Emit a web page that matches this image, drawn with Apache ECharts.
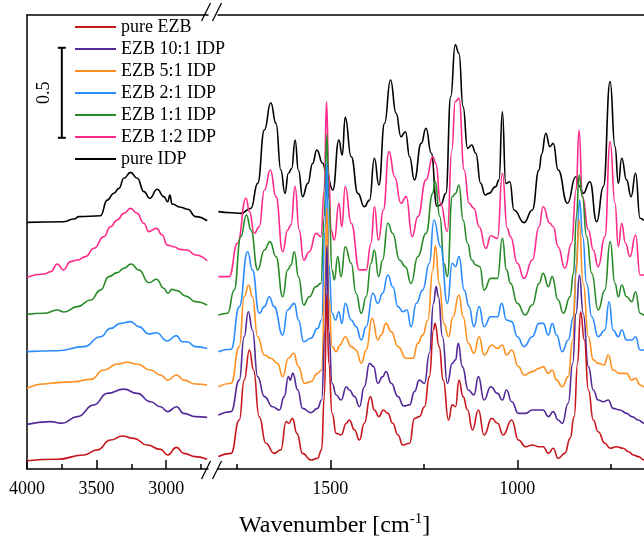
<!DOCTYPE html>
<html><head><meta charset="utf-8">
<script src="https://cdn.jsdelivr.net/npm/echarts@6/dist/echarts.min.js"></script>
<style>html,body{margin:0;padding:0;background:#fff}#c{width:644px;height:541px}</style>
</head><body><div id="c"></div>
<script>
// ---------- data (wavenumber [cm-1], offset-stacked absorbance) ----------
const seriesNames = ['pure EZB','EZB 10:1 IDP','EZB 5:1 IDP','EZB 2:1 IDP','EZB 1:1 IDP','EZB 1:2 IDP','pure IDP'];
const seriesColors = ['#C8161D','#532A97','#FF8F1F','#2B8CFF','#288B28','#FF2A8A','#000000'];

const leftMajorTicks = [4000, 3500, 3000];
const leftMinorTicks = [3750, 3250, 2750];
const rightMajorTicks = [1500, 1000];
const rightMinorTicks = [1750, 1250, 750];

const scaleBarWn = 3750, scaleBarBase = 1.84, scaleBarLength = 0.5, scaleBarLabel = '0.5';

const redLeft = [[4000,0.046],[3782,0.054],[3591,0.078],[3496,0.106],[3400,0.161],[3316,0.183],[3232,0.170],[3137,0.133],[3041,0.109],[2989,0.078],[2926,0.120],[2874,0.087],[2790,0.069],[2706,0.054]];
const purpleLeft = [[4000,0.248],[3830,0.263],[3747,0.254],[3639,0.291],[3519,0.356],[3424,0.420],[3304,0.444],[3209,0.420],[3113,0.374],[3041,0.346],[2989,0.319],[2926,0.346],[2874,0.309],[2790,0.291],[2706,0.287]];
const orangeLeft = [[4000,0.448],[3878,0.472],[3782,0.480],[3663,0.485],[3543,0.498],[3448,0.550],[3352,0.583],[3280,0.593],[3209,0.583],[3113,0.550],[3041,0.522],[2989,0.494],[2926,0.522],[2874,0.494],[2790,0.472],[2706,0.467]];
const blueLeft = [[4000,0.652],[3782,0.657],[3591,0.680],[3472,0.735],[3400,0.781],[3328,0.809],[3256,0.819],[3197,0.791],[3125,0.750],[3070,0.757],[2993,0.711],[2926,0.741],[2886,0.707],[2850,0.707],[2790,0.680],[2706,0.670]];
const greenLeft = [[4000,0.859],[3878,0.865],[3782,0.883],[3735,0.872],[3639,0.902],[3543,0.939],[3472,0.994],[3412,1.069],[3352,1.091],[3304,1.115],[3252,1.139],[3197,1.106],[3125,1.035],[3070,1.054],[3017,1.004],[2989,0.976],[2958,0.998],[2922,0.991],[2862,0.961],[2790,0.930],[2706,0.911]];
const pinkLeft = [[4000,1.065],[3878,1.083],[3830,1.096],[3782,1.139],[3739,1.106],[3687,1.152],[3639,1.161],[3579,1.180],[3519,1.226],[3448,1.291],[3400,1.346],[3352,1.383],[3304,1.420],[3256,1.448],[3209,1.420],[3161,1.365],[3125,1.319],[3070,1.337],[3029,1.300],[2993,1.244],[2946,1.235],[2898,1.220],[2850,1.217],[2790,1.189],[2706,1.157]];
const blackLeft = [[4000,1.370],[3735,1.374],[3663,1.389],[3627,1.402],[3472,1.407],[3424,1.494],[3376,1.532],[3340,1.559],[3304,1.615],[3256,1.648],[3208,1.615],[3160,1.541],[3118,1.504],[3065,1.554],[3017,1.513],[2989,1.485],[2974,1.522],[2958,1.472],[2898,1.454],[2845,1.443],[2790,1.402],[2706,1.379]];

const redRight = [[1799,0.069],[1765,0.087],[1743,0.272],[1730,0.494],[1716,0.661],[1705,0.550],[1690,0.291],[1672,0.143],[1650,0.087],[1632,0.106],[1618,0.263],[1610,0.254],[1601,0.281],[1589,0.198],[1574,0.087],[1552,0.050],[1534,0.059],[1523,0.106],[1516,0.402],[1509,0.97],[1504,0.587],[1495,0.309],[1484,0.198],[1471,0.189],[1457,0.254],[1449,0.272],[1435,0.217],[1422,0.161],[1409,0.254],[1393,0.402],[1382,0.328],[1370,0.291],[1358,0.328],[1346,0.309],[1333,0.254],[1319,0.189],[1306,0.133],[1288,0.143],[1275,0.281],[1262,0.291],[1248,0.346],[1235,0.513],[1224,0.772],[1220,0.809],[1209,0.680],[1198,0.494],[1184,0.272],[1174,0.356],[1165,0.346],[1156,0.494],[1145,0.402],[1133,0.328],[1120,0.217],[1104,0.328],[1089,0.189],[1068,0.281],[1053,0.254],[1038,0.189],[1015,0.272],[997,0.161],[978,0.124],[960,0.133],[942,0.124],[931,0.124],[917,0.087],[904,0.115],[891,0.059],[873,0.087],[859,0.170],[848,0.291],[839,0.587],[831,0.874],[821,0.717],[810,0.439],[797,0.272],[784,0.207],[766,0.143],[752,0.115],[735,0.124],[717,0.115],[703,0.096],[690,0.078],[677,0.069],[661,0.050],[650,0.05]];
const purpleRight = [[1799,0.300],[1765,0.319],[1743,0.494],[1730,0.735],[1719,0.874],[1708,0.772],[1694,0.513],[1676,0.402],[1654,0.346],[1636,0.328],[1623,0.402],[1612,0.513],[1607,0.494],[1600,0.531],[1587,0.439],[1574,0.337],[1552,0.313],[1534,0.337],[1523,0.383],[1514,0.772],[1509,1.24],[1504,0.772],[1495,0.476],[1484,0.411],[1471,0.383],[1457,0.457],[1449,0.439],[1435,0.402],[1422,0.346],[1409,0.457],[1395,0.587],[1384,0.569],[1373,0.476],[1360,0.513],[1351,0.541],[1337,0.476],[1319,0.402],[1304,0.350],[1288,0.356],[1275,0.430],[1262,0.494],[1248,0.476],[1235,0.643],[1224,0.920],[1217,1.013],[1211,0.957],[1200,0.735],[1187,0.476],[1174,0.587],[1165,0.606],[1158,0.698],[1147,0.569],[1131,0.439],[1116,0.411],[1104,0.513],[1089,0.383],[1071,0.457],[1053,0.420],[1040,0.383],[1029,0.439],[1015,0.374],[997,0.309],[978,0.309],[960,0.328],[942,0.328],[931,0.328],[917,0.291],[904,0.319],[891,0.272],[880,0.254],[864,0.365],[852,0.587],[843,0.865],[834,1.078],[824,0.865],[810,0.569],[797,0.439],[784,0.383],[770,0.374],[757,0.383],[744,0.337],[726,0.328],[708,0.309],[694,0.291],[677,0.272],[661,0.254],[650,0.25]];
const orangeRight = [[1799,0.457],[1765,0.476],[1743,0.680],[1730,0.957],[1718,1.022],[1708,0.957],[1694,0.735],[1676,0.633],[1659,0.615],[1641,0.587],[1627,0.513],[1612,0.615],[1598,0.643],[1585,0.569],[1569,0.476],[1552,0.485],[1534,0.531],[1523,0.550],[1514,1.050],[1509,1.45],[1504,0.957],[1495,0.680],[1484,0.652],[1474,0.689],[1460,0.735],[1444,0.680],[1431,0.661],[1417,0.587],[1404,0.661],[1388,0.837],[1373,0.717],[1364,0.744],[1351,0.809],[1337,0.763],[1319,0.680],[1297,0.615],[1279,0.615],[1266,0.698],[1253,0.744],[1239,0.828],[1226,1.106],[1219,1.24],[1209,1.031],[1196,0.809],[1184,0.735],[1172,0.846],[1156,0.967],[1145,0.846],[1131,0.698],[1116,0.643],[1102,0.735],[1089,0.633],[1068,0.689],[1053,0.670],[1040,0.689],[1029,0.633],[1015,0.661],[997,0.569],[982,0.522],[960,0.541],[942,0.559],[931,0.569],[917,0.531],[907,0.550],[895,0.494],[880,0.457],[864,0.513],[852,0.717],[843,1.087],[835,1.383],[824,1.031],[810,0.735],[797,0.606],[784,0.587],[768,0.578],[757,0.633],[744,0.550],[726,0.531],[708,0.531],[694,0.494],[684,0.504],[672,0.467],[661,0.457],[650,0.455]];
const blueRight = [[1799,0.652],[1765,0.665],[1743,0.902],[1721,1.207],[1708,1.106],[1690,0.865],[1676,0.902],[1663,0.957],[1650,0.902],[1627,0.744],[1614,0.883],[1596,0.920],[1585,0.828],[1571,0.707],[1552,0.726],[1534,0.781],[1523,0.828],[1514,1.328],[1509,1.70],[1504,1.143],[1495,0.865],[1486,0.828],[1477,0.874],[1469,0.809],[1460,0.920],[1444,0.828],[1431,0.791],[1417,0.717],[1404,0.791],[1386,0.976],[1373,0.920],[1360,0.976],[1346,1.078],[1333,1.013],[1319,0.902],[1306,0.874],[1295,0.883],[1284,0.791],[1270,0.920],[1253,0.994],[1235,1.143],[1223,1.383],[1205,1.235],[1187,0.920],[1174,1.143],[1165,1.124],[1156,1.180],[1142,0.994],[1129,0.902],[1116,0.791],[1102,0.902],[1089,0.791],[1071,0.846],[1053,0.846],[1042,0.920],[1029,0.828],[1015,0.819],[1000,0.735],[982,0.680],[960,0.735],[942,0.809],[931,0.809],[917,0.744],[907,0.809],[895,0.744],[880,0.652],[864,0.717],[850,0.846],[842,1.143],[834,1.494],[825,1.291],[815,1.031],[801,0.846],[784,0.735],[766,0.772],[755,0.930],[744,0.772],[730,0.735],[721,0.772],[708,0.717],[694,0.717],[684,0.735],[672,0.661],[661,0.661],[650,0.66]];
const greenRight = [[1799,0.856],[1774,0.865],[1757,0.994],[1739,1.291],[1724,1.411],[1712,1.328],[1694,1.106],[1676,1.217],[1661,1.263],[1645,1.180],[1627,0.957],[1614,1.106],[1605,1.133],[1596,1.207],[1585,1.069],[1571,0.911],[1556,0.957],[1538,1.013],[1525,1.031],[1516,1.40],[1509,1.86],[1504,1.50],[1495,1.106],[1489,1.050],[1480,1.180],[1471,1.069],[1460,1.235],[1444,1.143],[1431,0.976],[1417,0.865],[1404,0.957],[1391,1.143],[1382,1.217],[1371,1.069],[1360,1.161],[1346,1.365],[1333,1.309],[1315,1.161],[1299,1.124],[1284,1.031],[1266,1.180],[1244,1.309],[1226,1.531],[1220,1.60],[1207,1.402],[1196,1.143],[1187,1.069],[1174,1.513],[1165,1.531],[1156,1.578],[1145,1.383],[1133,1.254],[1122,1.161],[1111,1.133],[1100,1.124],[1089,0.994],[1071,1.059],[1053,1.059],[1040,1.281],[1029,1.106],[1018,1.031],[1000,0.920],[979,0.856],[960,0.911],[942,1.031],[931,1.087],[917,1.013],[907,1.069],[891,0.939],[877,0.865],[859,0.957],[850,1.087],[842,1.402],[835,1.633],[826,1.513],[815,1.291],[801,1.087],[784,0.883],[766,0.994],[752,1.263],[739,1.031],[730,0.957],[721,1.022],[708,0.957],[694,0.930],[684,0.985],[672,0.865],[661,0.856],[650,0.85]];
const pinkRight = [[1799,1.069],[1770,1.069],[1748,1.254],[1725,1.504],[1716,1.430],[1703,1.309],[1690,1.346],[1676,1.550],[1660,1.661],[1645,1.513],[1627,1.207],[1614,1.328],[1605,1.356],[1594,1.569],[1583,1.328],[1571,1.161],[1556,1.207],[1538,1.309],[1525,1.291],[1516,1.55],[1510,2.04],[1504,1.65],[1498,1.328],[1489,1.272],[1477,1.476],[1469,1.346],[1460,1.569],[1444,1.365],[1422,1.106],[1404,1.106],[1391,1.254],[1382,1.457],[1371,1.272],[1358,1.439],[1343,1.763],[1328,1.624],[1311,1.476],[1297,1.513],[1281,1.291],[1266,1.402],[1244,1.606],[1226,1.735],[1218,1.698],[1205,1.476],[1187,1.319],[1175,1.772],[1166,2.041],[1156,2.059],[1142,1.661],[1129,1.476],[1116,1.448],[1102,1.346],[1084,1.226],[1071,1.296],[1053,1.281],[1040,1.643],[1027,1.337],[1018,1.291],[1000,1.143],[982,1.059],[960,1.161],[942,1.346],[931,1.457],[913,1.365],[904,1.346],[891,1.235],[873,1.115],[855,1.254],[843,1.550],[835,1.883],[826,1.513],[810,1.328],[797,1.217],[784,1.124],[766,1.291],[752,1.819],[739,1.476],[730,1.235],[721,1.365],[711,1.254],[699,1.180],[684,1.300],[672,1.078],[661,1.078],[650,1.07]];
const blackRight = [[1799,1.430],[1765,1.424],[1739,1.420],[1712,1.448],[1694,1.587],[1676,1.883],[1659,2.035],[1645,1.920],[1632,1.661],[1621,1.531],[1612,1.643],[1603,1.669],[1594,1.828],[1585,1.661],[1574,1.513],[1560,1.587],[1547,1.698],[1536,1.772],[1520,1.698],[1511,1.650],[1493,1.550],[1477,1.828],[1468,1.744],[1460,1.954],[1444,1.735],[1426,1.531],[1409,1.457],[1395,1.494],[1382,1.726],[1370,1.578],[1355,1.920],[1339,2.161],[1324,1.976],[1311,1.846],[1299,1.874],[1288,1.735],[1275,1.606],[1257,1.809],[1244,1.893],[1230,1.754],[1215,1.46],[1205,1.467],[1191,1.531],[1178,2.069],[1166,2.356],[1156,2.309],[1145,2.013],[1133,1.781],[1122,1.800],[1111,1.754],[1098,1.587],[1086,1.522],[1076,1.531],[1058,1.569],[1049,1.606],[1040,1.985],[1031,1.587],[1020,1.596],[1009,1.439],[982,1.369],[960,1.439],[942,1.661],[935,1.75],[924,1.865],[913,1.791],[904,1.809],[891,1.661],[866,1.476],[844,1.624],[833,1.569],[824,1.531],[806,1.596],[788,1.374],[770,1.569],[752,2.152],[739,1.791],[730,1.587],[721,1.726],[708,1.606],[696,1.513],[684,1.643],[672,1.393],[661,1.383],[650,1.38]];

const leftData = [redLeft, purpleLeft, orangeLeft, blueLeft, greenLeft, pinkLeft, blackLeft];
const rightData = [redRight, purpleRight, orangeRight, blueRight, greenRight, pinkRight, blackRight];

// ---------- chart ----------
const FONT = '"Liberation Serif", "Times New Roman", serif';
const Y_MAX = 2.5222;
const chart = echarts.init(document.getElementById('c'), null, {renderer: 'canvas'});

function xAxisMajor(grid, min, max, ticks) {
  return {type: 'value', gridIndex: grid, position: 'bottom', inverse: true, min: min, max: max,
    axisLine: {show: true, onZero: false, lineStyle: {color: '#000', width: 1.5}},
    axisTick: {show: true, inside: true, length: 9, customValues: ticks, lineStyle: {color: '#000', width: 1.5}},
    axisLabel: {show: true, customValues: ticks, margin: 11, color: '#000', fontSize: 18, fontFamily: FONT, formatter: v => String(v)},
    splitLine: {show: false}};
}
function xAxisMinor(grid, min, max, ticks) {
  return {type: 'value', gridIndex: grid, position: 'bottom', inverse: true, min: min, max: max,
    axisLine: {show: false, onZero: false},
    axisTick: {show: true, inside: true, length: 5, customValues: ticks, lineStyle: {color: '#000', width: 1.5}},
    axisLabel: {show: false}, splitLine: {show: false}};
}
function xAxisTop(grid, min, max) {
  return {type: 'value', gridIndex: grid, position: 'top', inverse: true, min: min, max: max,
    axisLine: {show: true, onZero: false, lineStyle: {color: '#000', width: 1.5}},
    axisTick: {show: false}, axisLabel: {show: false}, splitLine: {show: false}};
}

const series = [];
// draw order: pure IDP first, pure EZB last (on top)
for (let i = seriesNames.length - 1; i >= 0; i--) {
  [[leftData[i], 0, 0], [rightData[i], 3, 1]].forEach(([d, xi, yi]) => {
    series.push({type: 'line', name: seriesNames[i], data: d, xAxisIndex: xi, yAxisIndex: yi,
      symbol: 'none', smooth: 0.5, smoothMonotone: 'x', silent: true,
      lineStyle: {color: seriesColors[i], width: 1.6}, itemStyle: {color: seriesColors[i]}});
  });
}
series.push({
  type: 'custom', name: 'scalebar', xAxisIndex: 0, yAxisIndex: 0, silent: true, clip: false,
  data: [[scaleBarWn, scaleBarBase, scaleBarBase + scaleBarLength]],
  renderItem: function (params, api) {
    const p0 = api.coord([api.value(0), api.value(1)]);
    const p1 = api.coord([api.value(0), api.value(2)]);
    const cap = 4, st = {stroke: '#000', lineWidth: 2};
    return {type: 'group', children: [
      {type: 'line', shape: {x1: p0[0], y1: p0[1], x2: p1[0], y2: p1[1]}, style: st},
      {type: 'line', shape: {x1: p0[0] - cap, y1: p0[1], x2: p0[0] + cap, y2: p0[1]}, style: st},
      {type: 'line', shape: {x1: p1[0] - cap, y1: p1[1], x2: p1[0] + cap, y2: p1[1]}, style: st},
      {type: 'text', x: p0[0] - 18, y: (p0[1] + p1[1]) / 2, rotation: Math.PI / 2,
        style: {text: scaleBarLabel, fill: '#000', font: '18px ' + FONT, align: 'center', verticalAlign: 'middle'}}
    ]};
  }
});

chart.setOption({
  animation: false,
  backgroundColor: '#fff',
  title: {
    text: '{a|Wavenumber [cm}{s|-1}{a|]}', left: 239, top: 512, padding: 0,
    textStyle: {fontWeight: 'normal', rich: {
      a: {fontSize: 24, fontFamily: FONT, fontWeight: 'normal', color: '#000', lineHeight: 28},
      s: {fontSize: 15, fontFamily: FONT, fontWeight: 'normal', color: '#000', lineHeight: 15, verticalAlign: 'top'}
    }}
  },
  legend: {
    data: seriesNames, orient: 'vertical', left: 75, top: 16, padding: 0,
    itemWidth: 41, itemHeight: 2, icon: 'rect', itemGap: 0, selectedMode: false,
    textStyle: {fontFamily: FONT, fontSize: 18, color: '#000', lineHeight: 22}
  },
  grid: [
    {left: 27, top: 15, width: 181, height: 454, outerBoundsMode: 'none', containLabel: false},
    {left: 218, top: 15, width: 449, height: 454, outerBoundsMode: 'none', containLabel: false}
  ],
  xAxis: [
    xAxisMajor(0, 2700, 4000, leftMajorTicks),
    xAxisMinor(0, 2700, 4000, leftMinorTicks),
    xAxisTop(0, 2700, 4000),
    xAxisMajor(1, 600, 1800, rightMajorTicks),
    xAxisMinor(1, 600, 1800, rightMinorTicks),
    xAxisTop(1, 600, 1800)
  ],
  yAxis: [
    {type: 'value', gridIndex: 0, min: 0, max: Y_MAX, position: 'left',
      axisLine: {show: true, onZero: false, lineStyle: {color: '#000', width: 1.5}},
      axisTick: {show: false}, axisLabel: {show: false}, splitLine: {show: false}},
    {type: 'value', gridIndex: 1, min: 0, max: Y_MAX,
      axisLine: {show: false}, axisTick: {show: false}, axisLabel: {show: false}, splitLine: {show: false}}
  ],
  series: series
});

// axis break marks "//" placed at the ends of the two panels
const xL = chart.convertToPixel({xAxisIndex: 0}, 2700);
const xR = chart.convertToPixel({xAxisIndex: 3}, 1800);
const yT = chart.convertToPixel({yAxisIndex: 0}, Y_MAX);
const yB = chart.convertToPixel({yAxisIndex: 0}, 0);
function slashes(y) {
  const h = 9, w = 4.5, st = {stroke: '#000', lineWidth: 1.3};
  return [
    {type: 'line', shape: {x1: xL - 2 - w, y1: y + h, x2: xL - 2 + w, y2: y - h}, style: st},
    {type: 'line', shape: {x1: xR - 1 - w, y1: y + h, x2: xR - 1 + w, y2: y - h}, style: st}
  ];
}
chart.setOption({graphic: [].concat(slashes(yT - 3), slashes(yB + 1))});
</script>
</body></html>
